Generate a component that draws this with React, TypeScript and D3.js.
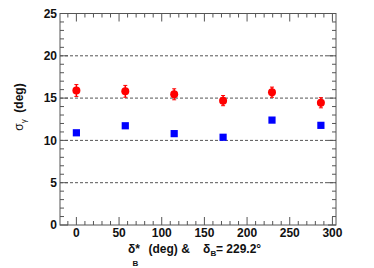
import React from "react";
import * as d3 from "d3";

const xValues = [0, 57.3, 114.6, 171.9, 229.2, 286.5];
const redValues = [15.9, 15.8, 15.45, 14.7, 15.7, 14.45];
const redErrors = [0.7, 0.7, 0.65, 0.6, 0.6, 0.6];
const blueValues = [10.9, 11.73, 10.8, 10.37, 12.4, 11.78];
const xTicks = [0, 50, 100, 150, 200, 250, 300];
const yTicks = [0, 5, 10, 15, 20, 25];
const gridValues = [5, 10, 15, 20];

const W = 374, H = 268;
const L = 60, R = 336, T = 13.5, B = 225;

export default function App() {
  const x = d3.scaleLinear().domain([-19.2, 304.2]).range([L, R]);
  const y = d3.scaleLinear().domain([0, 25]).range([B, T]);
  const xMinor = d3.range(-10, 301, 10);
  const yMinor = d3.range(0, 25.01, 1);
  const font = "'Liberation Sans', Arial, sans-serif";
  return (
    <svg width={W} height={H} style={{ position: "absolute", left: 0, top: 0 }}>
      <rect x={0} y={0} width={W} height={H} fill="#fff" />
      {gridValues.map((v) => (
        <line key={"g" + v} x1={L} x2={R} y1={y(v)} y2={y(v)} stroke="#555" strokeWidth={1} strokeDasharray="3,2" />
      ))}
      {yMinor.map((v) => {
        const len = v % 5 === 0 ? 8 : 4;
        return (
          <g key={"yt" + v}>
            <line x1={L} x2={L + len} y1={y(v)} y2={y(v)} stroke="#555" />
            <line x1={R} x2={R - len} y1={y(v)} y2={y(v)} stroke="#555" />
          </g>
        );
      })}
      {xMinor.map((v) => {
        const len = v % 50 === 0 ? 8 : 4;
        return (
          <g key={"xt" + v}>
            <line x1={x(v)} x2={x(v)} y1={B} y2={B - len} stroke="#555" />
            <line x1={x(v)} x2={x(v)} y1={T} y2={T + len} stroke="#555" />
          </g>
        );
      })}
      <rect x={L} y={T} width={R - L} height={B - T} fill="none" stroke="#555" strokeWidth={1} />
      {yTicks.map((v) => (
        <text key={"yl" + v} x={L - 3} y={y(v)} dy="0.36em" textAnchor="end" fontFamily={font} fontWeight="bold" fontSize={12} fill="#111">
          {v}
        </text>
      ))}
      {xTicks.map((v) => (
        <text key={"xl" + v} x={x(v)} y={237} textAnchor="middle" fontFamily={font} fontWeight="bold" fontSize={12} fill="#111">
          {v}
        </text>
      ))}
      {xValues.map((v, i) => (
        <rect key={"b" + i} x={x(v) - 3.6} y={y(blueValues[i]) - 3.6} width={7.2} height={7.2} fill="#0000ff" />
      ))}
      {xValues.map((v, i) => (
        <g key={"r" + i}>
          <line x1={x(v)} x2={x(v)} y1={y(redValues[i] + redErrors[i])} y2={y(redValues[i] - redErrors[i])} stroke="#ff0000" strokeWidth={1.5} />
          <line x1={x(v) - 2} x2={x(v) + 2} y1={y(redValues[i] + redErrors[i])} y2={y(redValues[i] + redErrors[i])} stroke="#ff0000" strokeWidth={1} />
          <line x1={x(v) - 2} x2={x(v) + 2} y1={y(redValues[i] - redErrors[i])} y2={y(redValues[i] - redErrors[i])} stroke="#ff0000" strokeWidth={1} />
          <circle cx={x(v)} cy={y(redValues[i])} r={4} fill="#ff0000" />
        </g>
      ))}
      <g fontFamily={font} fontWeight="bold" fill="#111">
        <text x={128} y={253} fontSize={12}>δ*</text>
        <text x={132.5} y={266} fontSize={8}>B</text>
        <text x={148.5} y={253} fontSize={12}>(deg) &amp;</text>
        <text x={203} y={253} fontSize={12}>δ</text>
        <text x={210.5} y={256} fontSize={8}>B</text>
        <text x={216} y={253} fontSize={12}>= 229.2°</text>
      </g>
      <text transform="translate(23,107) rotate(-90)" textAnchor="middle" fontFamily={font} fontSize={12} fill="#111" style={{ whiteSpace: "pre" }}>
        <tspan>σ</tspan>
        <tspan fontSize={8} dy={3}>γ</tspan>
        <tspan dy={-3} fontWeight="bold">{"  (deg)"}</tspan>
      </text>
    </svg>
  );
}
